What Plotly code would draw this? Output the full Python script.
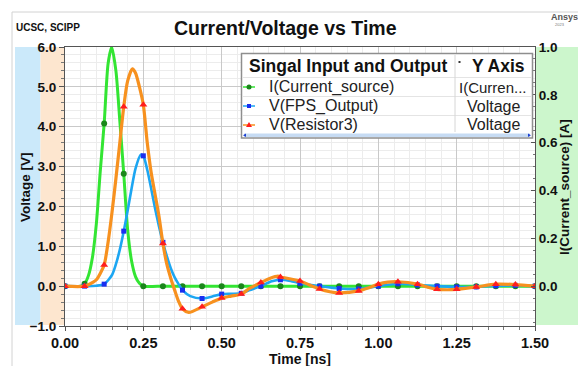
import plotly.graph_objects as go

# ---------------- data ----------------
# I(Current_source) [A]
t_green = [0.0, 0.05, 0.0625, 0.075, 0.0875, 0.1, 0.1125, 0.125, 0.1375, 0.149, 0.1625,
           0.175, 0.1875, 0.2, 0.2125, 0.225, 0.2375, 0.25, 0.3125, 0.375, 0.4375, 0.5,
           0.5625, 0.625, 0.6875, 0.75, 0.8125, 0.875, 0.9375, 1.0, 1.0625, 1.125, 1.1875,
           1.25, 1.3125, 1.375, 1.4375, 1.5]
i_green = [0.0, 0.0, 0.01, 0.045, 0.12, 0.26, 0.48, 0.68, 0.93, 1.0, 0.9,
           0.69, 0.47, 0.235, 0.105, 0.04, 0.012, 0.0, 0.0, 0.0, 0.0, 0.0,
           0.0, 0.0, 0.0, 0.0, 0.0, 0.0, 0.0, 0.0, 0.0, 0.0, 0.0,
           0.0, 0.0, 0.0, 0.0, 0.0]

# V(FPS_Output) [V]
t_blue = [0.0, 0.0625, 0.1, 0.125, 0.15, 0.1625, 0.175, 0.1875, 0.2, 0.2125, 0.225, 0.242,
          0.25, 0.2625, 0.275, 0.2875, 0.3, 0.3125, 0.325, 0.3375, 0.35, 0.3625, 0.375,
          0.4, 0.4375, 0.47, 0.5, 0.53, 0.5625, 0.59, 0.625, 0.66, 0.6875, 0.72, 0.75,
          0.8125, 0.875, 0.9375, 1.0, 1.0625, 1.125, 1.1875, 1.25, 1.3125, 1.375, 1.4375, 1.5]
v_blue = [0.0, 0.0, 0.01, 0.05, 0.28, 0.55, 0.92, 1.38, 1.9, 2.45, 2.95, 3.3,
          3.27, 2.92, 2.45, 1.95, 1.5, 1.1, 0.75, 0.45, 0.22, 0.05, -0.1,
          -0.25, -0.31, -0.26, -0.2, -0.19, -0.18, -0.1, 0.0, 0.12, 0.16, 0.13, 0.07,
          0.0, -0.06, -0.07, 0.0, 0.06, 0.03, 0.0, -0.02, -0.02, 0.01, 0.02, 0.0]

# V(Resistor3) [V]
t_orange = [0.0, 0.0625, 0.09, 0.1, 0.1125, 0.125, 0.1375, 0.15, 0.1625, 0.175, 0.1875, 0.2,
            0.215, 0.225, 0.2375, 0.25, 0.2625, 0.275, 0.2875, 0.3, 0.3125, 0.325, 0.3375,
            0.35, 0.3625, 0.375, 0.395, 0.4375, 0.47, 0.5, 0.53, 0.5625, 0.59, 0.625, 0.655,
            0.68, 0.6875, 0.75, 0.78, 0.8125, 0.845, 0.875, 0.9375, 0.97, 1.0, 1.03, 1.0625,
            1.125, 1.16, 1.1875, 1.22, 1.25, 1.3125, 1.375, 1.4375, 1.5]
v_orange = [0.0, 0.0, 0.1, 0.16, 0.32, 0.53, 1.1, 1.85, 2.7, 3.6, 4.5, 5.15,
            5.45, 5.35, 5.0, 4.55, 3.6, 2.85, 2.3, 1.75, 1.07, 0.55, 0.2,
            -0.1, -0.38, -0.57, -0.66, -0.52, -0.4, -0.3, -0.25, -0.2, -0.05, 0.09, 0.2,
            0.25, 0.23, 0.13, 0.03, -0.07, -0.14, -0.17, -0.12, -0.04, 0.05, 0.1, 0.11,
            0.05, -0.03, -0.08, -0.09, -0.08, -0.02, 0.05, 0.04, 0.0]

sample_step = 0.0625  # simulator sample spacing (markers)

x_ticks = [0.0, 0.25, 0.5, 0.75, 1.0, 1.25, 1.5]
v_ticks = [-1.0, 0.0, 1.0, 2.0, 3.0, 4.0, 5.0, 6.0]
i_ticks = [0.0, 0.2, 0.4, 0.6, 0.8, 1.0]

legend_names = ["I(Current_source)", "V(FPS_Output)", "V(Resistor3)"]
legend_axes = ["I(Curren...", "Voltage", "Voltage"]

# ---------------- layout geometry ----------------
FW, FH = 578, 366
L, R, T, B = 65, 535, 47, 326
FONT = "Liberation Sans, Arial, sans-serif"


def fx(x):
    return (x - L) / (R - L)


def fy(y):
    return (B - y) / (B - T)


def samples(ts, vs):
    xs, ys = [], []
    for t, v in zip(ts, vs):
        k = t / sample_step
        if abs(k - round(k)) < 1e-9:
            xs.append(t)
            ys.append(v)
    return xs, ys


GREEN, GREEN_M = "#33e533", "#1b861b"
BLUE, BLUE_M = "#1ca6f2", "#1a2ff0"
ORANGE, ORANGE_M = "#f7911f", "#ff1e1e"

fig = go.Figure()

# base subplot: current (right axis)
fig.add_trace(go.Scatter(x=t_green, y=i_green, yaxis="y", mode="lines",
                         line=dict(color=GREEN, width=3, shape="spline", smoothing=0.7),
                         hoverinfo="skip", showlegend=False))
gx, gy = samples(t_green, i_green)
fig.add_trace(go.Scatter(x=gx, y=gy, yaxis="y", mode="markers",
                         marker=dict(symbol="circle", size=6, color=GREEN_M),
                         showlegend=False))

# overlay subplot: voltages (left axis)
fig.add_trace(go.Scatter(x=t_blue, y=v_blue, yaxis="y2", mode="lines",
                         line=dict(color=BLUE, width=2.6, shape="spline", smoothing=0.7),
                         showlegend=False))
bx, by = samples(t_blue, v_blue)
fig.add_trace(go.Scatter(x=bx, y=by, yaxis="y2", mode="markers",
                         marker=dict(symbol="square", size=5, color=BLUE_M),
                         showlegend=False))
fig.add_trace(go.Scatter(x=t_orange, y=v_orange, yaxis="y2", mode="lines",
                         line=dict(color=ORANGE, width=3.2, shape="spline", smoothing=0.7),
                         showlegend=False))
ox, oy = samples(t_orange, v_orange)
fig.add_trace(go.Scatter(x=ox, y=oy, yaxis="y2", mode="markers",
                         marker=dict(symbol="triangle-up", size=7, color=ORANGE_M),
                         showlegend=False))

tickfont = dict(family=FONT, size=13.5, color="#111", weight="bold")

fig.update_layout(
    width=FW, height=FH,
    margin=dict(l=L, r=FW - R, t=T, b=FH - B),
    paper_bgcolor="white", plot_bgcolor="white",
    showlegend=False,
    xaxis=dict(range=[0, 1.5], tickvals=x_ticks, tickformat=".2f",
               showgrid=True, gridcolor="#c9c9c9", gridwidth=1,
               showline=True, linecolor="#555", linewidth=1, mirror=True,
               ticks="outside", ticklen=4, tickcolor="#555",
               tickfont=dict(family=FONT, size=14.5, color="#111", weight="bold"),
               minor=dict(dtick=0.05, showgrid=True, gridcolor="#ececec",
                          ticks="outside", ticklen=3, tickcolor="#777"),
               zeroline=False),
    yaxis=dict(range=[-1 / 6, 1.0], tickvals=i_ticks, tickformat=".1f", side="right",
               showgrid=False, showline=True, linecolor="#555", linewidth=1,
               ticks="inside", ticklen=4, tickcolor="#555", tickfont=tickfont,
               minor=dict(dtick=0.05, ticks="inside", ticklen=2, tickcolor="#777"),
               zeroline=False),
    yaxis2=dict(range=[-1, 6], tickvals=v_ticks, tickformat=".1f", side="left",
                overlaying="y",
                showgrid=True, gridcolor="#c9c9c9", gridwidth=1,
                showline=True, linecolor="#555", linewidth=1,
                ticks="outside", ticklen=5, tickcolor="#555", tickfont=tickfont,
                minor=dict(dtick=0.2, showgrid=True, gridcolor="#ececec",
                           ticks="outside", ticklen=3, tickcolor="#777"),
                zeroline=False),
)

shapes = []
# outer frame lines
shapes.append(dict(type="line", xref="paper", yref="paper", x0=fx(12), x1=fx(FW + 5),
                   y0=fy(12), y1=fy(12), line=dict(color="#d2d2d2", width=1)))
shapes.append(dict(type="line", xref="paper", yref="paper", x0=fx(12), x1=fx(12),
                   y0=fy(12), y1=fy(FH + 5), line=dict(color="#d2d2d2", width=1)))
# axis colour bands
shapes.append(dict(type="rect", xref="paper", yref="paper", x0=fx(15), x1=fx(40.5),
                   y0=fy(325), y1=fy(T), fillcolor="#cbe9fa", line=dict(width=0), layer="below"))
shapes.append(dict(type="rect", xref="paper", yref="paper", x0=fx(40.5), x1=fx(L),
                   y0=fy(325), y1=fy(T), fillcolor="#fde6cf", line=dict(width=0), layer="below"))
shapes.append(dict(type="rect", xref="paper", yref="paper", x0=fx(R + 0.5), x1=fx(FW + 2),
                   y0=fy(325), y1=fy(T), fillcolor="#ccf6cc", line=dict(width=0), layer="below"))

# legend table
shapes.append(dict(type="rect", xref="paper", yref="paper", x0=fx(241.5), x1=fx(532.5),
                   y0=fy(138), y1=fy(53.5), fillcolor="white",
                   line=dict(color="#8e8e8e", width=1.5), layer="above"))
for ysep in [77.5, 96.5, 115.5]:
    shapes.append(dict(type="line", xref="paper", yref="paper", x0=fx(243), x1=fx(531),
                       y0=fy(ysep), y1=fy(ysep), line=dict(color="#e4e4e4", width=1),
                       layer="above"))
shapes.append(dict(type="line", xref="paper", yref="paper", x0=fx(455), x1=fx(455),
                   y0=fy(132), y1=fy(55), line=dict(color="#d6d6d6", width=1), layer="above"))
# scrollbar
shapes.append(dict(type="rect", xref="paper", yref="paper", x0=fx(244), x1=fx(530),
                   y0=fy(137), y1=fy(133.5), fillcolor="#c6dbf3", line=dict(width=0),
                   layer="above"))
shapes.append(dict(type="path", xref="paper", yref="paper",
                   path=f"M {fx(243)},{fy(135.2)} L {fx(246)},{fy(133.5)} L {fx(246)},{fy(137)} Z",
                   fillcolor="#1d3fd0", line=dict(width=0), layer="above"))
shapes.append(dict(type="path", xref="paper", yref="paper",
                   path=f"M {fx(531)},{fy(135.2)} L {fx(528)},{fy(133.5)} L {fx(528)},{fy(137)} Z",
                   fillcolor="#1d3fd0", line=dict(width=0), layer="above"))
# small header marker before "Y Axis"
shapes.append(dict(type="rect", xref="paper", yref="paper", x0=fx(458.5), x1=fx(460.5),
                   y0=fy(63), y1=fy(61), fillcolor="#333", line=dict(width=0), layer="above"))

row_y = [87, 106, 125]
line_cols = [GREEN, BLUE, ORANGE]
mark_cols = [GREEN_M, BLUE_M, ORANGE_M]
for i, yy in enumerate(row_y):
    shapes.append(dict(type="line", xref="paper", yref="paper", x0=fx(243), x1=fx(255),
                       y0=fy(yy), y1=fy(yy), line=dict(color=line_cols[i], width=1.5),
                       layer="above"))
    cx = 249
    if i == 0:
        shapes.append(dict(type="circle", xref="paper", yref="paper", x0=fx(cx - 2.5),
                           x1=fx(cx + 2.5), y0=fy(yy + 2.5), y1=fy(yy - 2.5),
                           fillcolor=mark_cols[i], line=dict(width=0), layer="above"))
    elif i == 1:
        shapes.append(dict(type="rect", xref="paper", yref="paper", x0=fx(cx - 2),
                           x1=fx(cx + 2), y0=fy(yy + 2), y1=fy(yy - 2),
                           fillcolor=mark_cols[i], line=dict(width=0), layer="above"))
    else:
        shapes.append(dict(type="path", xref="paper", yref="paper",
                           path=f"M {fx(cx)},{fy(yy - 3)} L {fx(cx + 3)},{fy(yy + 2)} L {fx(cx - 3)},{fy(yy + 2)} Z",
                           fillcolor=mark_cols[i], line=dict(width=0), layer="above"))

fig.update_layout(shapes=shapes)

ann = []


def text(x, y, s, size, bold=False, color="#111", xanchor="center", angle=0):
    ann.append(dict(xref="paper", yref="paper", x=fx(x), y=fy(y), text=s, showarrow=False,
                    xanchor=xanchor, yanchor="middle", textangle=angle,
                    font=dict(family=FONT, size=size, color=color,
                              weight="bold" if bold else "normal")))


text(285, 28, "Current/Voltage vs Time", 19.5, bold=True)
text(14, 28, "UCSC, SCIPP", 10, bold=True, xanchor="left")
text(549, 17, "Ansys", 9, bold=True, color="#555", xanchor="left")
text(553, 24, "2023", 4, color="#777", xanchor="left")
text(25, 187, "Voltage [V]", 13.5, bold=True, angle=-90)
text(564, 187, "I(Current_source) [A]", 13.5, bold=True, angle=-90)
text(300, 359, "Time [ns]", 14, bold=True)

# legend text
text(246.5, 66, "Singal Input and Output", 17.5, bold=True, xanchor="left")
text(498.5, 66, "Y Axis", 17.5, bold=True)
for i, yy in enumerate(row_y):
    text(267, yy, legend_names[i], 16, xanchor="left", color="#222")
    text(493, yy, legend_axes[i], 15 if i == 0 else 16, color="#222")

fig.update_layout(annotations=ann)

fig.write_html("out.html")
